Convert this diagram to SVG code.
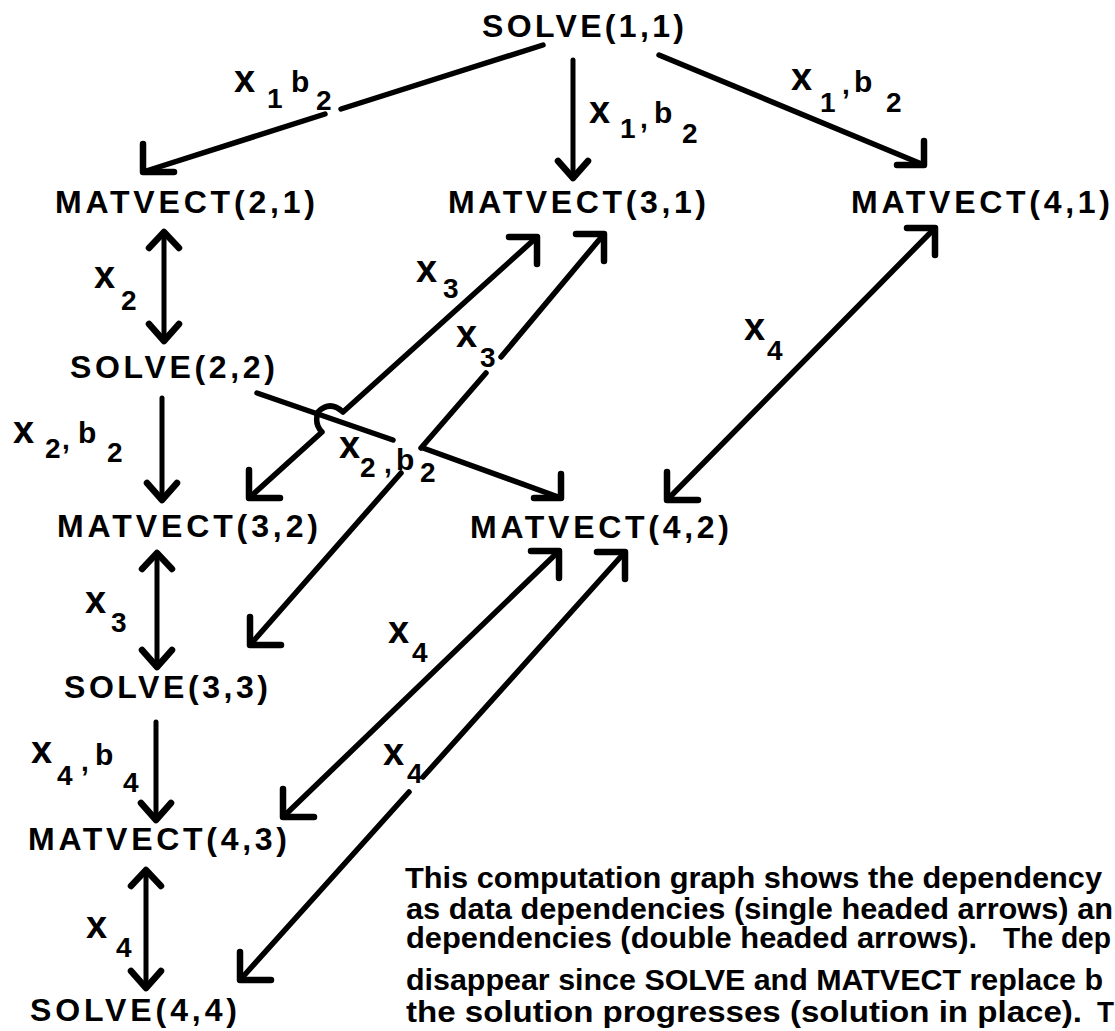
<svg xmlns="http://www.w3.org/2000/svg" width="1115" height="1031" viewBox="0 0 1115 1031">
<style>
text { font-family: "Liberation Sans", Arial, sans-serif; font-weight: bold; fill: #000; }
.n { font-size: 32px; }
.t { font-size: 29px; }
.v { font-size: 38px; }
.bb { font-size: 30px; }
.s { font-size: 28px; }
.ln { fill: none; stroke: #000; stroke-width: 5.5; stroke-linecap: round; stroke-linejoin: round; }
.vt { stroke-width: 5; }
.hp { fill: none; stroke: #000; stroke-width: 6.5; stroke-linecap: round; stroke-linejoin: round; }
</style>
<defs>
<marker id="mSW" markerUnits="userSpaceOnUse" orient="0" refX="0" refY="0" markerWidth="80" markerHeight="80" viewBox="-40 -40 80 80" overflow="visible"><path class="hp" d="M0,-28 L0,0 L31,0"/></marker>
<marker id="mNE" markerUnits="userSpaceOnUse" orient="0" refX="0" refY="0" markerWidth="80" markerHeight="80" viewBox="-40 -40 80 80" overflow="visible"><path class="hp" d="M-28,0 L0,0 L0,27"/></marker>
<marker id="mSE" markerUnits="userSpaceOnUse" orient="0" refX="0" refY="0" markerWidth="80" markerHeight="80" viewBox="-40 -40 80 80" overflow="visible"><path class="hp" d="M0,-24 L0,0 L-27,0"/></marker>
<marker id="mDown" markerUnits="userSpaceOnUse" orient="0" refX="0" refY="0" markerWidth="80" markerHeight="80" viewBox="-40 -40 80 80" overflow="visible"><path class="hp" d="M-15,-17 L0,0 L15,-17"/></marker>
<marker id="mUp" markerUnits="userSpaceOnUse" orient="0" refX="0" refY="0" markerWidth="80" markerHeight="80" viewBox="-40 -40 80 80" overflow="visible"><path class="hp" d="M-15,16 L0,0 L15,16"/></marker>
</defs>
<rect width="1115" height="1031" fill="#fff"/>

<g id="nodes">
<g id="solve11"><text class="n" x="482" y="37" textLength="202" lengthAdjust="spacing">SOLVE(1,1)</text></g>
<g id="matvect21"><text class="n" x="55" y="213" textLength="260" lengthAdjust="spacing">MATVECT(2,1)</text></g>
<g id="matvect31"><text class="n" x="448" y="213" textLength="258" lengthAdjust="spacing">MATVECT(3,1)</text></g>
<g id="matvect41"><text class="n" x="851" y="213" textLength="259" lengthAdjust="spacing">MATVECT(4,1)</text></g>
<g id="solve22"><text class="n" x="70" y="378" textLength="205" lengthAdjust="spacing">SOLVE(2,2)</text></g>
<g id="matvect32"><text class="n" x="57" y="537" textLength="261" lengthAdjust="spacing">MATVECT(3,2)</text></g>
<g id="matvect42"><text class="n" x="470" y="538" textLength="259" lengthAdjust="spacing">MATVECT(4,2)</text></g>
<g id="solve33"><text class="n" x="64" y="698" textLength="204" lengthAdjust="spacing">SOLVE(3,3)</text></g>
<g id="matvect43"><text class="n" x="28" y="850" textLength="259" lengthAdjust="spacing">MATVECT(4,3)</text></g>
<g id="solve44"><text class="n" x="30" y="1021" textLength="207" lengthAdjust="spacing">SOLVE(4,4)</text></g>
</g>

<g id="connectors">
<g id="e-s11-m21">
<path class="ln" d="M543,45 L341,109"/>
<path class="ln" d="M325,114 L143,172" marker-end="url(#mSW)"/>
<text><tspan class="v" x="234" y="92">x</tspan><tspan class="s" x="267" y="108">1</tspan><tspan class="bb" x="291" y="92">b</tspan><tspan class="s" x="316" y="110">2</tspan></text>
</g>
<g id="e-s11-m31">
<path class="ln vt" d="M573,60 L573,178" marker-end="url(#mDown)"/>
<text><tspan class="v" x="589" y="123">x</tspan><tspan class="s" x="620" y="138">1</tspan><tspan class="s" x="640" y="128">,</tspan><tspan class="bb" x="654" y="123">b</tspan><tspan class="s" x="682" y="143">2</tspan></text>
</g>
<g id="e-s11-m41">
<path class="ln" d="M659,55 L924,165" marker-end="url(#mSE)"/>
<text><tspan class="v" x="791" y="90">x</tspan><tspan class="s" x="820" y="112">1</tspan><tspan class="s" x="842" y="94">,</tspan><tspan class="bb" x="854" y="92">b</tspan><tspan class="s" x="886" y="112">2</tspan></text>
</g>
<g id="e-m21-s22">
<path class="ln vt" d="M164,232 L164,341" marker-start="url(#mUp)" marker-end="url(#mDown)"/>
<text><tspan class="v" x="94" y="288">x</tspan><tspan class="s" x="121" y="310">2</tspan></text>
</g>
<g id="e-s22-m32">
<path class="ln vt" d="M162,398 L162,500" marker-end="url(#mDown)"/>
<text><tspan class="v" x="13" y="443">x</tspan><tspan class="s" x="45" y="458">2</tspan><tspan class="s" x="62" y="449">,</tspan><tspan class="bb" x="78" y="443">b</tspan><tspan class="s" x="107" y="462">2</tspan></text>
</g>
<g id="e-m32-s33">
<path class="ln vt" d="M157,553 L157,667" marker-start="url(#mUp)" marker-end="url(#mDown)"/>
<text><tspan class="v" x="85" y="613">x</tspan><tspan class="s" x="111" y="632">3</tspan></text>
</g>
<g id="e-s33-m43">
<path class="ln vt" d="M156,722 L156,820" marker-end="url(#mDown)"/>
<text><tspan class="v" x="31" y="763">x</tspan><tspan class="s" x="57" y="785">4</tspan><tspan class="s" x="81" y="771">,</tspan><tspan class="bb" x="95" y="765">b</tspan><tspan class="s" x="123" y="792">4</tspan></text>
</g>
<g id="e-m43-s44">
<path class="ln vt" d="M146,870 L146,988" marker-start="url(#mUp)" marker-end="url(#mDown)"/>
<text><tspan class="v" x="86" y="938">x</tspan><tspan class="s" x="116" y="957">4</tspan></text>
</g>
<g id="e-m31-m32">
<path class="ln" d="M537,237 L343,412 Q330,400 318,412 Q314,424 322,432 L249,498" marker-start="url(#mNE)" marker-end="url(#mSW)"/>
<text><tspan class="v" x="416" y="282">x</tspan><tspan class="s" x="443" y="298">3</tspan></text>
</g>
<g id="e-m31-s33">
<path class="ln" d="M604,234 L501,357" marker-start="url(#mNE)"/>
<path class="ln" d="M486,373 L421,448"/>
<path class="ln" d="M401,473 L250,645" marker-end="url(#mSW)"/>
<text><tspan class="v" x="456" y="347">x</tspan><tspan class="s" x="480" y="367">3</tspan></text>
</g>
<g id="e-s22-m42">
<path class="ln" d="M257,393 L393,440"/>
<path class="ln" d="M423,448 L561,498" marker-end="url(#mSE)"/>
<text><tspan class="v" x="339" y="458">x</tspan><tspan class="s" x="360" y="477">2</tspan><tspan class="s" x="384" y="473">,</tspan><tspan class="bb" x="396" y="470">b</tspan><tspan class="s" x="420" y="482">2</tspan></text>
</g>
<g id="e-m41-m42">
<path class="ln" d="M935,228 L667,500" marker-start="url(#mNE)" marker-end="url(#mSW)"/>
<text><tspan class="v" x="744" y="340">x</tspan><tspan class="s" x="767" y="360">4</tspan></text>
</g>
<g id="e-m42-m43">
<path class="ln" d="M559,551 L283,817" marker-start="url(#mNE)" marker-end="url(#mSW)"/>
<text><tspan class="v" x="388" y="643">x</tspan><tspan class="s" x="412" y="662">4</tspan></text>
</g>
<g id="e-m42-s44">
<path class="ln" d="M625,552 L423,777" marker-start="url(#mNE)"/>
<path class="ln" d="M409,792 L240,980" marker-end="url(#mSW)"/>
<text><tspan class="v" x="383" y="765">x</tspan><tspan class="s" x="407" y="783">4</tspan></text>
</g>
</g>

<g id="caption">
<text class="t" x="405" y="888" textLength="697" lengthAdjust="spacingAndGlyphs">This computation graph shows the dependency</text>
<text class="t" x="406" y="919" textLength="707" lengthAdjust="spacingAndGlyphs">as data dependencies (single headed arrows) an</text>
<text class="t" x="406" y="948" textLength="571" lengthAdjust="spacingAndGlyphs">dependencies (double headed arrows).</text>
<text class="t" x="1003" y="948" textLength="108" lengthAdjust="spacingAndGlyphs">The dep</text>
<text class="t" x="406" y="990" textLength="697" lengthAdjust="spacingAndGlyphs">disappear since SOLVE and MATVECT replace b</text>
<text class="t" x="406" y="1022" textLength="676" lengthAdjust="spacingAndGlyphs">the solution progresses (solution in place).</text>
<text class="t" x="1097" y="1022" textLength="17" lengthAdjust="spacingAndGlyphs">T</text>
</g>
</svg>
